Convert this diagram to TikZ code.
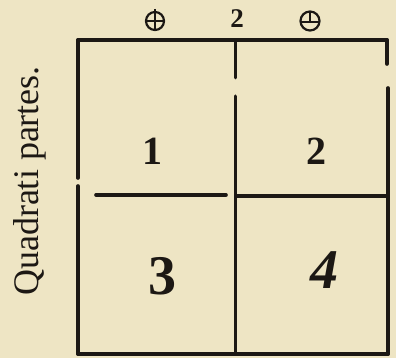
\documentclass[tikz,border=0pt]{standalone}
\usepackage{fontspec}
\setmainfont{Liberation Serif}
\definecolor{paper}{RGB}{238,229,196}
\definecolor{ink}{RGB}{28,24,20}
\begin{document}
\begin{tikzpicture}[x=1pt,y=1pt,
  rule/.style={ink,line width=3.6pt,line cap=round},
  sym/.style={ink,line width=2.2pt},
  smallnum/.style={ink,font=\fontsize{40}{40}\selectfont\bfseries},
  bignum/.style={ink,font=\fontsize{56}{56}\selectfont\bfseries},
  toplabel/.style={ink,font=\fontsize{27}{27}\selectfont\bfseries},
  sidelabel/.style={ink,font=\fontsize{36}{36}\selectfont,rotate=90}]
\fill[paper] (0,0) rectangle (396,358);
\useasboundingbox (0,0) rectangle (396,358);
% outer frame (y = 358 - pixel row)
\coordinate (tl) at (78,318);
\coordinate (tr) at (387,318);
\coordinate (bl) at (78,4);
\coordinate (br) at (388,4);
\draw[rule] (tl) -- (tr);
\draw[rule] (tl) -- (78,180);
\draw[rule] (78,172) -- (bl);
\draw[rule] (bl) -- (br);
\draw[rule] (387,318) -- (387,294);
\draw[rule] (388,270) -- (br);
% middle vertical
\draw[rule,line width=3pt] (235,318) -- (235,280);
\draw[rule,line width=3pt] (235,262) -- (235,4);
% middle horizontal
\draw[rule] (96,163) -- (226,163);
\draw[rule] (236,162) -- (388,162);
% top labels
\coordinate (plus) at (155,337);
\draw[sym] (plus) circle (9);
\draw[sym] (155,349) -- (155,328);
\draw[sym] (146,337) -- (164,337);
\node[toplabel] (two) at (237,339) {2};
\coordinate (minus) at (310,337);
\draw[sym] (minus) circle (9.5);
\draw[sym] (300.5,336) -- (319.5,336);
\draw[sym] (310,336) -- (310,346);
% cell numbers
\node[smallnum] (c1) at (152,207) {1};
\node[smallnum] (c2) at (316,207) {2};
\node[bignum] (c3) at (162,82) {3};
\node[bignum] (c4) at (324,88) {\itshape 4};
% side label
\node[sidelabel] (side) at (30,177) {Quadrati partes.};
\end{tikzpicture}
\end{document}
